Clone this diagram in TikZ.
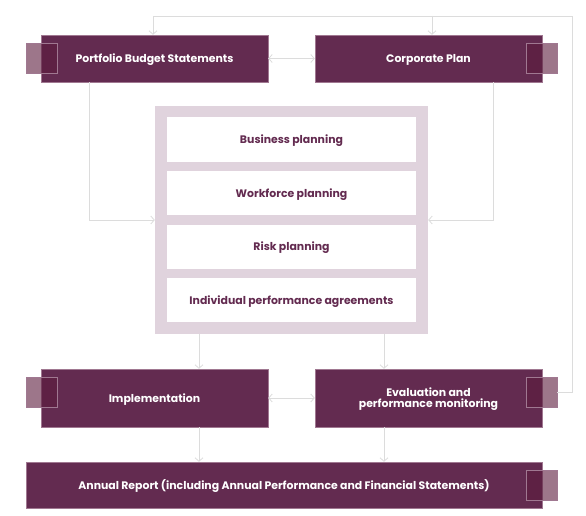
\documentclass[tikz,border=0pt]{standalone}
\usepackage{fontspec}
\setmainfont{Poppins}
\usetikzlibrary{positioning, arrows.meta}

\definecolor{plum}{RGB}{99,43,80}
\definecolor{plumaccent}{RGB}{91,27,60}
\definecolor{plumedge}{RGB}{160,120,145}
\definecolor{lilac}{RGB}{224,211,221}
\definecolor{linegrey}{RGB}{220,220,220}

\tikzset{
  stagebox/.style={rectangle, fill=plum, draw=plumedge, line width=0.4pt,
    text=white, font=\fontsize{10.9}{11}\selectfont\bfseries, align=center,
    minimum width=227pt, inner sep=0pt, text depth=0.5pt},
  accentbox/.style={rectangle, fill=plumaccent, fill opacity=0.6,
    draw=plumedge, line width=0.6pt, minimum width=31pt, minimum height=30pt,
    inner sep=0pt},
  planbox/.style={rectangle, fill=white, text=plum,
    font=\fontsize{10.9}{11}\selectfont\bfseries, text depth=0.5pt,
    minimum width=249pt, minimum height=44pt, inner sep=0pt},
  flow/.style={draw=linegrey, line width=0.8pt,
    -{Straight Barb[length=3.5pt,width=8pt]}},
  twoway/.style={draw=linegrey, line width=0.8pt,
    {Straight Barb[length=3.5pt,width=8pt]}-{Straight Barb[length=3.5pt,width=8pt]}}
}

\begin{document}
\begin{tikzpicture}[x=1pt, y=-1pt]
  \useasboundingbox (0,0) rectangle (586,516);

  % top row
  \node[stagebox, minimum height=47pt] (pbs) at (154.5,58.5) {Portfolio Budget Statements};
  \node[stagebox, minimum height=47pt] (corp) at (428.5,58.5) {Corporate Plan};
  \node[accentbox] (pbsacc) at (41.5,58.5) {};
  \node[accentbox] (corpacc) at (541.5,58.5) {};

  % planning block
  \node[rectangle, fill=lilac, minimum width=273pt, minimum height=228pt] (plan) at (291.5,220) {};
  \foreach \i/\y/\txt in {
    1/139.5/Business planning,
    2/193/Workforce planning,
    3/246.5/Risk planning,
    4/300/Individual performance agreements
  }{
    \node[planbox] (row\i) at (291.5,\y) {\txt};
  }

  % lower row
  \node[stagebox, minimum height=58pt] (impl) at (154.5,398) {Implementation};
  \node[stagebox, minimum height=58pt] (eval) at (428.5,398) {Evaluation and\\performance monitoring};
  \node[accentbox] (implacc) at (41.5,392) {};
  \node[accentbox] (evalacc) at (541.5,392) {};

  % annual report
  \node[stagebox, minimum width=516pt, minimum height=46pt] (annual) at (284,485)
    {Annual Report (including Annual Performance and Financial Statements)};
  \node[accentbox] (annualacc) at (541.5,485) {};

  % guide points for the connectors
  \coordinate (loopR) at (572,16);
  \coordinate (loopL) at (153,16);
  \coordinate (loopC) at (432,16);
  \coordinate (leftdrop) at (89,0);
  \coordinate (rightdrop) at (493,0);
  \coordinate (colA) at (199,0);
  \coordinate (colB) at (384,0);

  % feedback loop
  \draw[flow] (evalacc.east) -| (loopR) -- (loopL) -- (pbs.north -| loopL);
  \draw[flow] (loopC) -- (corp.north -| loopC);
  \draw[twoway] (pbs.east) -- (corp.west);

  % into the planning block
  \draw[flow] (pbs.south -| leftdrop) |- (plan.west);
  \draw[flow] (corp.south -| rightdrop) |- (plan.east);

  % down to implementation and evaluation
  \draw[flow] (plan.south -| colA) -- (impl.north -| colA);
  \draw[flow] (plan.south -| colB) -- (eval.north -| colB);
  \draw[twoway] (impl.east) -- (eval.west);
  \draw[flow] (impl.south -| colA) -- (annual.north -| colA);
  \draw[flow] (eval.south -| colB) -- (annual.north -| colB);
\end{tikzpicture}
\end{document}
